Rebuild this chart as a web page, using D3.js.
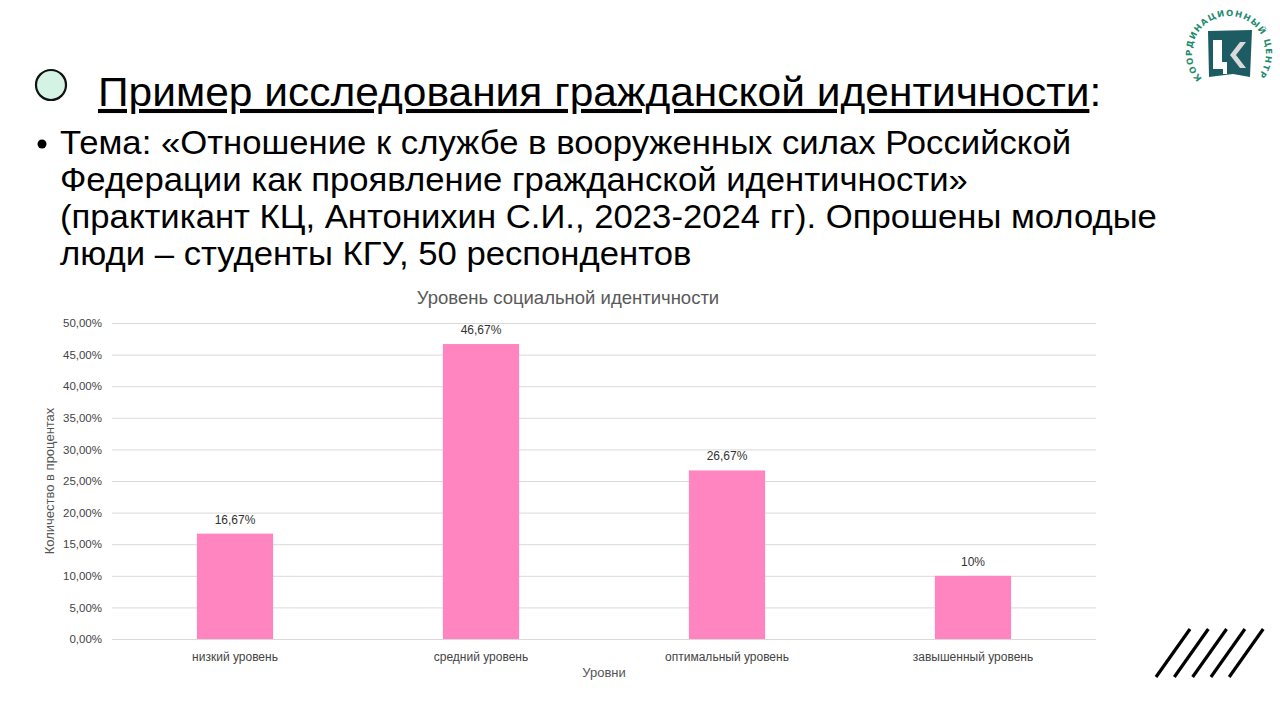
<!DOCTYPE html>
<html>
<head>
<meta charset="utf-8">
<script src="https://cdn.jsdelivr.net/npm/d3@7"></script>
<style>
  body { margin: 0; background: #fff; }
  svg { display: block; }
</style>
</head>
<body>
<svg id="slide" width="1280" height="720"></svg>
<script>
// chart data
const categories = ["низкий уровень", "средний уровень", "оптимальный уровень", "завышенный уровень"];
const values = [16.67, 46.67, 26.67, 10];
const valueLabels = ["16,67%", "46,67%", "26,67%", "10%"];
const yTicks = [0, 5, 10, 15, 20, 25, 30, 35, 40, 45, 50];
const yTickLabels = ["0,00%", "5,00%", "10,00%", "15,00%", "20,00%", "25,00%", "30,00%", "35,00%", "40,00%", "45,00%", "50,00%"];

const bodyLines = [
  "Тема: «Отношение к службе в вооруженных силах Российской",
  "Федерации как проявление гражданской идентичности»",
  "(практикант КЦ, Антонихин С.И., 2023-2024 гг). Опрошены молодые",
  "люди – студенты КГУ, 50 респондентов"
];

const svg = d3.select("#slide");
const font = "'Liberation Sans', Arial, sans-serif";

// slide heading
svg.append("circle")
  .attr("cx", 51).attr("cy", 85).attr("r", 15)
  .attr("fill", "#d4f3e4").attr("stroke", "#111").attr("stroke-width", 2.2);

const title = svg.append("text")
  .attr("transform", "translate(98,106) scale(1.037,1)")
  .attr("font-family", font).attr("font-size", 41).attr("fill", "#000");
title.append("tspan").attr("text-decoration", "underline").text("Пример исследования гражданской идентичности");
title.append("tspan").text(":");

// bullet text
svg.append("circle").attr("cx", 42).attr("cy", 144).attr("r", 4.5).attr("fill", "#000");
svg.append("g")
  .attr("transform", "translate(60,0) scale(1.051,1)")
  .selectAll("text.body")
  .data(bodyLines)
  .enter().append("text")
  .attr("class", "body")
  .attr("x", 0)
  .attr("y", (d, i) => 154 + i * 37)
  .attr("font-family", font).attr("font-size", 33).attr("fill", "#000")
  .text(d => d);

// logo
const logo = svg.append("g");
const arc = d3.path();
arc.arc(1229, 53, 37, Math.PI * 0.76, Math.PI * 2.24, false);
logo.append("defs").append("path").attr("id", "logoArc").attr("d", arc.toString());
logo.append("text")
  .attr("font-family", "'DejaVu Sans', sans-serif").attr("font-weight", "bold")
  .attr("font-size", 8.5).attr("fill", "#1e8a6e")
  .append("textPath").attr("href", "#logoArc")
  .attr("textLength", 168).attr("lengthAdjust", "spacing")
  .text("КООРДИНАЦИОННЫЙ ЦЕНТР");
logo.append("path")
  .attr("d", "M1208,31 L1252,30 L1250,77 L1233,74 L1209,77 Z")
  .attr("fill", "#1d5c63");
logo.append("path")
  .attr("d", "M1213,40 L1222,40 L1222,62 L1227,62 L1227,74 L1223,74 L1223,69 L1213,69 Z")
  .attr("fill", "#fff");
logo.append("path")
  .attr("d", "M1240,42 L1246,42 L1236,55 L1246,68 L1240,68 L1230,55 Z")
  .attr("fill", "#d9d9d9");

// chart
const plot = { left: 112, right: 1096, top: 323, bottom: 639 };

const x = d3.scaleBand()
  .domain(categories)
  .range([plot.left, plot.right])
  .paddingInner(0.69).paddingOuter(0.345);

const y = d3.scaleLinear()
  .domain([0, 50])
  .range([plot.bottom, plot.top]);

const chart = svg.append("g").attr("font-family", font);

chart.append("text")
  .attr("x", 568).attr("y", 304)
  .attr("text-anchor", "middle")
  .attr("font-size", 18.5).attr("fill", "#595959")
  .text("Уровень социальной идентичности");

const yAxis = d3.axisLeft(y)
  .tickValues(yTicks)
  .tickSize(-(plot.right - plot.left))
  .tickPadding(10)
  .tickFormat((d, i) => yTickLabels[i]);

const gy = chart.append("g")
  .attr("transform", `translate(${plot.left},0)`)
  .call(yAxis);
gy.select(".domain").remove();
gy.selectAll(".tick line").attr("stroke", "#d9d9d9").attr("stroke-width", 1);
gy.selectAll(".tick text")
  .attr("font-family", font).attr("font-size", 11.5).attr("fill", "#444");

chart.selectAll("rect.bar")
  .data(values)
  .enter().append("rect")
  .attr("class", "bar")
  .attr("x", (d, i) => x(categories[i]))
  .attr("width", x.bandwidth())
  .attr("y", d => y(d))
  .attr("height", d => y(0) - y(d))
  .attr("fill", "#ff85c0");

chart.selectAll("text.vlabel")
  .data(values)
  .enter().append("text")
  .attr("class", "vlabel")
  .attr("x", (d, i) => x(categories[i]) + x.bandwidth() / 2)
  .attr("y", d => y(d) - 10)
  .attr("text-anchor", "middle")
  .attr("font-size", 12).attr("fill", "#333")
  .text((d, i) => valueLabels[i]);

const xAxis = d3.axisBottom(x).tickSize(0).tickPadding(13);
const gx = chart.append("g")
  .attr("transform", `translate(0,${plot.bottom})`)
  .call(xAxis);
gx.select(".domain").remove();
gx.selectAll(".tick text")
  .attr("font-family", font).attr("font-size", 12).attr("fill", "#444");

chart.append("text")
  .attr("x", (plot.left + plot.right) / 2).attr("y", 677)
  .attr("text-anchor", "middle")
  .attr("font-size", 13).attr("fill", "#555")
  .text("Уровни");

chart.append("text")
  .attr("transform", `translate(54,${(plot.top + plot.bottom) / 2}) rotate(-90)`)
  .attr("text-anchor", "middle")
  .attr("font-size", 13).attr("fill", "#555")
  .text("Количество в процентах");

// decorative slashes
const slashes = [0, 1, 2, 3, 4];
svg.append("g").selectAll("line")
  .data(slashes)
  .enter().append("line")
  .attr("x1", d => 1156 + d * 18.3).attr("y1", 677)
  .attr("x2", d => 1190 + d * 18.3).attr("y2", 629)
  .attr("stroke", "#000").attr("stroke-width", 3.2);
</script>
</body>
</html>
